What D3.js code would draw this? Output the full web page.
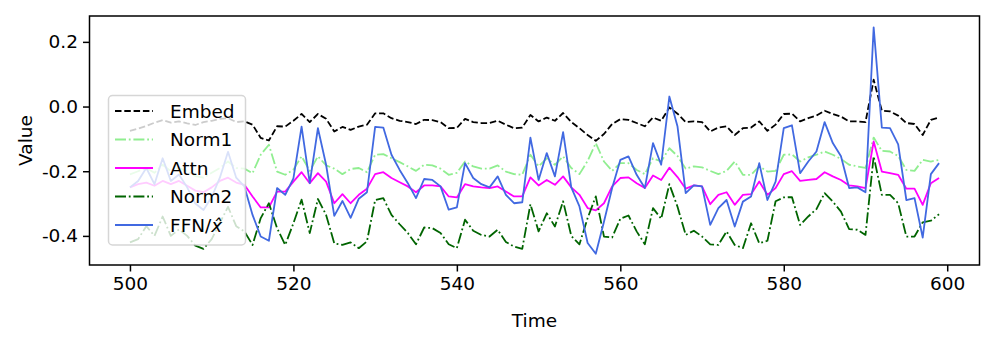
<!DOCTYPE html>
<html>
<head>
<meta charset="utf-8">
<script src="https://cdn.jsdelivr.net/npm/d3@7"></script>
<style>
    body { margin: 0; background: #fff; }
    svg text { font-family: "DejaVu Sans", sans-serif; fill: #000; }
    .series { fill: none; stroke-linejoin: round; }
</style>
</head>
<body>
<script>
// Time steps 500..599
var startTime = 500;

// Values, one per time step
var embed = [
    -0.075, -0.068, -0.060, -0.050, -0.042, -0.050, -0.046, -0.052, -0.057, -0.048,
    -0.044, -0.038, -0.036, -0.048, -0.046, -0.056, -0.097, -0.105, -0.061, -0.062,
    -0.044, -0.023, -0.048, -0.023, -0.038, -0.077, -0.063, -0.072, -0.062, -0.056,
    -0.021, -0.021, -0.036, -0.044, -0.048, -0.054, -0.041, -0.042, -0.048, -0.067,
    -0.066, -0.038, -0.048, -0.051, -0.051, -0.044, -0.056, -0.067, -0.065, -0.026,
    -0.046, -0.034, -0.044, -0.020, -0.048, -0.067, -0.088, -0.106, -0.085, -0.054,
    -0.039, -0.041, -0.051, -0.061, -0.034, -0.044, -0.003, -0.022, -0.048, -0.046,
    -0.048, -0.077, -0.065, -0.061, -0.088, -0.067, -0.065, -0.046, -0.075, -0.056,
    -0.023, -0.022, -0.046, -0.036, -0.028, -0.013, -0.023, -0.031, -0.046, -0.046,
    -0.048, 0.083, -0.013, -0.015, -0.028, -0.051, -0.054, -0.088, -0.041, -0.034
];
var norm1 = [
    -0.210, -0.200, -0.190, -0.205, -0.180, -0.200, -0.190, -0.200, -0.215, -0.220,
    -0.205, -0.190, -0.170, -0.190, -0.192, -0.206, -0.149, -0.118, -0.201, -0.211,
    -0.195, -0.154, -0.199, -0.154, -0.182, -0.192, -0.209, -0.193, -0.190, -0.203,
    -0.149, -0.147, -0.160, -0.172, -0.185, -0.199, -0.180, -0.182, -0.192, -0.211,
    -0.205, -0.170, -0.185, -0.192, -0.192, -0.182, -0.201, -0.209, -0.211, -0.149,
    -0.185, -0.160, -0.180, -0.154, -0.190, -0.209, -0.168, -0.113, -0.170, -0.199,
    -0.175, -0.175, -0.196, -0.209, -0.160, -0.170, -0.129, -0.153, -0.192, -0.185,
    -0.188, -0.199, -0.209, -0.199, -0.170, -0.211, -0.211, -0.185, -0.201, -0.199,
    -0.149, -0.148, -0.170, -0.157, -0.149, -0.139, -0.149, -0.162, -0.180, -0.185,
    -0.190, -0.096, -0.137, -0.139, -0.153, -0.196, -0.199, -0.165, -0.170, -0.165
];
var attn = [
    -0.250, -0.240, -0.235, -0.245, -0.230, -0.240, -0.230, -0.245, -0.260, -0.265,
    -0.250, -0.230, -0.220, -0.235, -0.242, -0.278, -0.312, -0.312, -0.263, -0.263,
    -0.232, -0.203, -0.237, -0.206, -0.232, -0.299, -0.271, -0.299, -0.273, -0.254,
    -0.209, -0.203, -0.221, -0.234, -0.247, -0.265, -0.244, -0.244, -0.247, -0.278,
    -0.281, -0.240, -0.247, -0.250, -0.252, -0.247, -0.263, -0.278, -0.278, -0.219,
    -0.244, -0.227, -0.242, -0.216, -0.250, -0.273, -0.314, -0.321, -0.299, -0.247,
    -0.221, -0.219, -0.237, -0.252, -0.213, -0.227, -0.189, -0.218, -0.254, -0.244,
    -0.247, -0.302, -0.273, -0.265, -0.304, -0.273, -0.271, -0.232, -0.273, -0.252,
    -0.209, -0.200, -0.230, -0.227, -0.224, -0.203, -0.216, -0.227, -0.244, -0.247,
    -0.252, -0.108, -0.201, -0.206, -0.211, -0.254, -0.254, -0.304, -0.237, -0.221
];
var norm2 = [
    -0.420, -0.410, -0.370, -0.400, -0.340, -0.400, -0.380, -0.400, -0.430, -0.440,
    -0.410, -0.360, -0.310, -0.370, -0.386, -0.428, -0.345, -0.299, -0.376, -0.428,
    -0.361, -0.288, -0.391, -0.286, -0.335, -0.423, -0.428, -0.420, -0.438, -0.417,
    -0.289, -0.283, -0.335, -0.364, -0.391, -0.426, -0.374, -0.376, -0.391, -0.426,
    -0.438, -0.350, -0.384, -0.397, -0.402, -0.381, -0.419, -0.433, -0.440, -0.302,
    -0.386, -0.330, -0.371, -0.293, -0.400, -0.426, -0.345, -0.278, -0.402, -0.405,
    -0.347, -0.337, -0.386, -0.426, -0.314, -0.347, -0.240, -0.310, -0.397, -0.384,
    -0.402, -0.426, -0.428, -0.386, -0.428, -0.438, -0.361, -0.423, -0.415, -0.293,
    -0.281, -0.280, -0.366, -0.340, -0.317, -0.268, -0.294, -0.325, -0.379, -0.381,
    -0.397, -0.154, -0.273, -0.273, -0.299, -0.402, -0.402, -0.358, -0.353, -0.333
];
var ffn = [
    -0.250, -0.230, -0.190, -0.240, -0.160, -0.230, -0.210, -0.250, -0.300, -0.320,
    -0.280, -0.220, -0.140, -0.220, -0.247, -0.335, -0.402, -0.415, -0.252, -0.273,
    -0.222, -0.062, -0.237, -0.067, -0.180, -0.338, -0.292, -0.344, -0.285, -0.265,
    -0.063, -0.065, -0.149, -0.196, -0.237, -0.283, -0.224, -0.227, -0.247, -0.319,
    -0.312, -0.175, -0.221, -0.240, -0.250, -0.216, -0.273, -0.299, -0.296, -0.096,
    -0.227, -0.144, -0.216, -0.079, -0.250, -0.309, -0.422, -0.455, -0.356, -0.252,
    -0.165, -0.154, -0.211, -0.252, -0.113, -0.180, 0.031, -0.062, -0.268, -0.244,
    -0.247, -0.366, -0.314, -0.289, -0.371, -0.294, -0.278, -0.175, -0.289, -0.232,
    -0.067, -0.058, -0.206, -0.170, -0.139, -0.048, -0.113, -0.154, -0.252, -0.250,
    -0.265, 0.245, -0.065, -0.067, -0.117, -0.289, -0.283, -0.405, -0.209, -0.175
];

var seriesNames = ["Embed", "Norm1", "Attn", "Norm2", "FFN/x\u0302"];
var seriesColors = ["#000000", "#90ee90", "#ff00ff", "#006400", "#4169e1"];
var seriesDash = ["6.5,2.8", "11,2.8,1.8,2.8", null, "11,2.8,1.8,2.8", null];
var xTicks = [500, 520, 540, 560, 580, 600];
var yTicks = [0.2, 0.0, -0.2, -0.4];

var allSeries = [embed, norm1, attn, norm2, ffn];

var W = 996, H = 346;
// plot box (avoid 'top' which is a window global)
var pLeft = 89.5, pTop = 16, pRight = 979.5, pBottom = 265;
var fs = 18.5;

var svg = d3.select("body").append("svg")
    .attr("width", W)
    .attr("height", H);

// matplotlib-style 5% margins
var tMin = startTime, tMax = startTime + embed.length - 1;
var xPad = (tMax - tMin) * 0.05;
var x = d3.scaleLinear().domain([tMin - xPad, tMax + xPad]).range([pLeft, pRight]);

var vMin = d3.min(allSeries, function(s) { return d3.min(s); });
var vMax = d3.max(allSeries, function(s) { return d3.max(s); });
var yPad = (vMax - vMin) * 0.05;
var y = d3.scaleLinear().domain([vMin - yPad, vMax + yPad]).range([pBottom, pTop]);

var line = d3.line()
    .x(function(d, i) { return x(startTime + i); })
    .y(function(d) { return y(d); });

// series
for (var s = 0; s < allSeries.length; s++) {
    var p = svg.append("path")
        .attr("class", "series")
        .attr("d", line(allSeries[s]))
        .attr("stroke", seriesColors[s])
        .attr("stroke-width", 1.8);
    if (seriesDash[s]) p.attr("stroke-dasharray", seriesDash[s]);
}

// axes
var xAxis = svg.append("g")
    .attr("transform", "translate(0," + pBottom + ")")
    .call(d3.axisBottom(x).tickValues(xTicks).tickSize(6.5).tickPadding(5).tickFormat(d3.format("d")));
var yAxis = svg.append("g")
    .attr("transform", "translate(" + pLeft + ",0)")
    .call(d3.axisLeft(y).tickValues(yTicks).tickSize(6.5).tickPadding(5)
        .tickFormat(function(d) { return d3.format(".1f")(d).replace("\u2212", "-"); }));

[xAxis, yAxis].forEach(function(g) {
    g.select(".domain").remove();
    g.selectAll(".tick line").attr("stroke", "#000").attr("stroke-width", 1.5);
    g.selectAll(".tick text").attr("font-size", fs).attr("font-family", "DejaVu Sans");
});

// frame
svg.append("rect")
    .attr("x", pLeft)
    .attr("y", pTop)
    .attr("width", pRight - pLeft)
    .attr("height", pBottom - pTop)
    .attr("fill", "none")
    .attr("stroke", "#000")
    .attr("stroke-width", 1.5);

// axis labels
svg.append("text")
    .attr("x", (pLeft + pRight) / 2)
    .attr("y", 327)
    .attr("text-anchor", "middle")
    .attr("font-size", fs)
    .text("Time");

svg.append("text")
    .attr("transform", "translate(32," + (pTop + pBottom) / 2 + ") rotate(-90)")
    .attr("text-anchor", "middle")
    .attr("font-size", fs)
    .text("Value");

// legend
var lg = svg.append("g");
lg.append("rect")
    .attr("x", 108.5)
    .attr("y", 95.5)
    .attr("width", 137)
    .attr("height", 149.5)
    .attr("rx", 4)
    .attr("fill", "#fff")
    .attr("fill-opacity", 0.8)
    .attr("stroke", "#cccccc")
    .attr("stroke-opacity", 0.8)
    .attr("stroke-width", 1.5);

var rowY0 = 111, rowStep = 28.5;
for (var k = 0; k < seriesNames.length; k++) {
    var ry = rowY0 + k * rowStep;
    var hl = lg.append("line")
        .attr("x1", 115).attr("x2", 153)
        .attr("y1", ry).attr("y2", ry)
        .attr("stroke", seriesColors[k])
        .attr("stroke-width", 1.8);
    if (seriesDash[k]) hl.attr("stroke-dasharray", seriesDash[k]);

    var tx = lg.append("text")
        .attr("x", 170)
        .attr("y", ry + 6.5)
        .attr("font-size", fs);
    if (k === 4) {
        tx.append("tspan").text("FFN/");
        tx.append("tspan").attr("font-style", "italic").text("x\u0302");
    } else {
        tx.text(seriesNames[k]);
    }
}
</script>
</body>
</html>
